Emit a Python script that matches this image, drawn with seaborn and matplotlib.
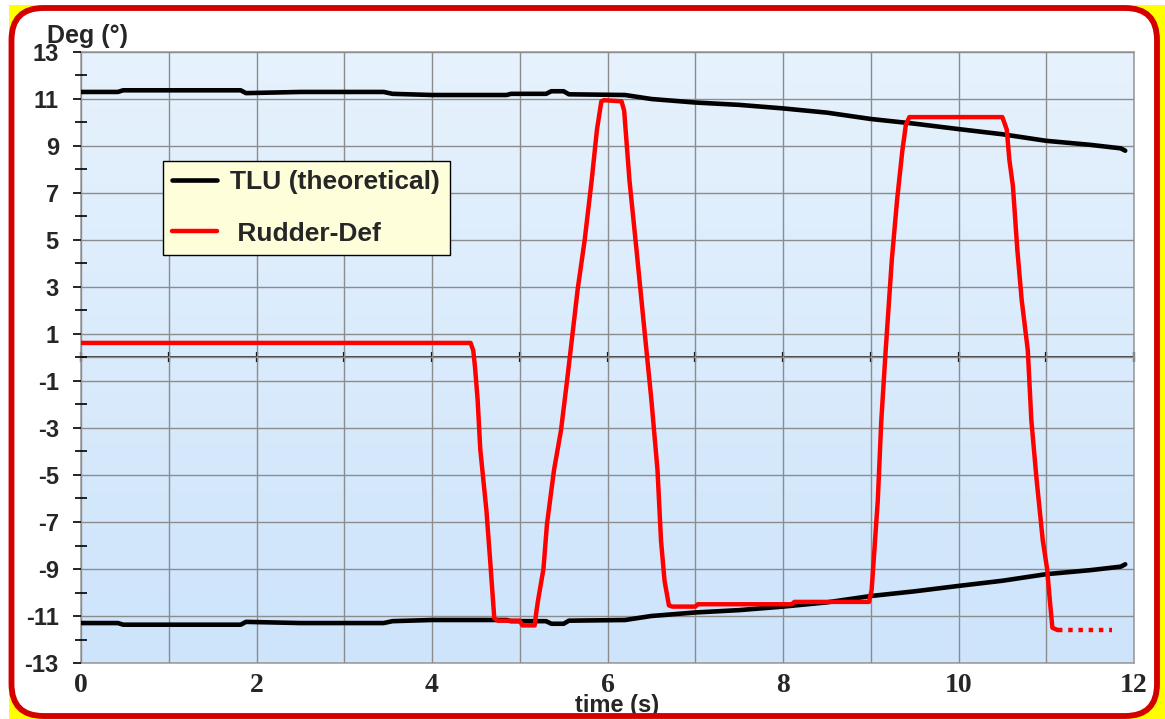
import numpy as np
import pandas as pd
import matplotlib
matplotlib.use('Agg')
import matplotlib.pyplot as plt
import seaborn as sns
from matplotlib.patches import FancyBboxPatch, Rectangle
from matplotlib.colors import LinearSegmentedColormap
from matplotlib.transforms import IdentityTransform

# ── Data ─────────────────────────────────────────────────────────────────────
tlu_up_x = [0, 0.42, 0.48, 1.82, 1.88, 2.5, 3.45, 3.55, 4.0, 4.85, 4.9, 5.3, 5.36,
            5.5, 5.56, 6.2, 6.5, 7.0, 7.5, 8.0, 8.5, 9.0, 9.5, 10.0, 10.5, 11.0,
            11.5, 11.85, 11.9]
tlu_up_y = [11.3, 11.3, 11.37, 11.37, 11.25, 11.3, 11.3, 11.22, 11.17, 11.17,
            11.22, 11.22, 11.33, 11.33, 11.2, 11.17, 11.0, 10.85, 10.75, 10.6,
            10.42, 10.15, 9.95, 9.72, 9.5, 9.22, 9.05, 8.9, 8.8]
tlu_lo_x = tlu_up_x
tlu_lo_y = [-11.3, -11.3, -11.37, -11.37, -11.25, -11.3, -11.3, -11.22, -11.17,
            -11.17, -11.22, -11.22, -11.33, -11.33, -11.2, -11.17, -11.0, -10.85,
            -10.75, -10.6, -10.42, -10.15, -9.95, -9.72, -9.5, -9.22, -9.05,
            -8.9, -8.8]

rudder_x = [0, 4.44, 4.47, 4.49, 4.52, 4.55, 4.62, 4.66, 4.71, 4.75, 5.0, 5.03,
            5.17, 5.19, 5.21, 5.27, 5.31, 5.39, 5.47, 5.54, 5.60, 5.66, 5.74,
            5.82, 5.88, 5.93, 5.96, 6.16, 6.19, 6.25, 6.33, 6.42, 6.50, 6.57,
            6.61, 6.65, 6.70, 6.74, 7.0, 7.03, 8.1, 8.13, 8.98, 9.01, 9.08, 9.12,
            9.17, 9.24, 9.30, 9.36, 9.40, 9.44, 10.50, 10.55, 10.58, 10.62,
            10.67, 10.72, 10.79, 10.83, 10.89, 10.96, 11.01, 11.04, 11.07, 11.13]
rudder_y = [0.62, 0.62, 0.3, -0.4, -1.8, -3.9, -6.5, -8.5, -11.1, -11.2, -11.2,
            -11.4, -11.4, -10.8, -10.3, -9.0, -7.1, -4.8, -3.1, -0.96, 0.96, 2.9,
            5.0, 7.55, 9.7, 10.9, 10.95, 10.9, 10.5, 7.55, 4.6, 1.2, -1.8, -4.8,
            -7.8, -9.5, -10.55, -10.6, -10.6, -10.5, -10.5, -10.4, -10.4, -9.9,
            -6.1, -2.7, 0.3, 4.15, 6.7, 8.8, 9.9, 10.23, 10.23, 9.7, 8.4, 7.3,
            4.6, 2.45, 0.3, -2.66, -5.2, -7.77, -9.0, -10.3, -11.5, -11.6]
rudder_tail_x = [11.13, 11.75]
rudder_tail_y = [-11.6, -11.6]

y_major = list(range(-13, 14, 2))
y_minor = list(range(-12, 13, 2))
x_major = list(range(0, 13, 2))
x_minor = list(range(1, 12, 2))
zero_ticks = list(range(0, 13))

SANS = ['Liberation Sans', 'DejaVu Sans']
SERIF = ['Liberation Serif', 'DejaVu Serif']
GRID = '#8c8c8c'
BORDER = '#d40000'

sns.set_theme(style='white')
plt.rcParams['font.family'] = SANS

fig = plt.figure(figsize=(11.65, 7.19), dpi=100, facecolor='white')

# ── Frame: yellow corners + red rounded border ───────────────────────────────
fig.add_artist(Rectangle((9, 0), 1156, 714, transform=IdentityTransform(),
                         facecolor='#ffff00', edgecolor='none', zorder=-3))
fig.add_artist(FancyBboxPatch((11.5, 3), 1145.5, 708,
                              boxstyle='round,pad=0,rounding_size=32',
                              transform=IdentityTransform(),
                              facecolor='white', edgecolor='none', zorder=-2))
fig.add_artist(FancyBboxPatch((11.5, 3), 1145.5, 708,
                              boxstyle='round,pad=0,rounding_size=32',
                              transform=IdentityTransform(),
                              facecolor='none', edgecolor=BORDER,
                              linewidth=4.2, zorder=20))

ax = fig.add_axes([81 / 1165, 1 - 663 / 719, (1134 - 81) / 1165, (663 - 52) / 719])
ax.set_xlim(0, 12)
ax.set_ylim(-13, 13)

# background gradient
grad = LinearSegmentedColormap.from_list('bg', ['#cde4fb', '#e6f2fd'])
ax.imshow(np.linspace(0, 1, 100).reshape(-1, 1), cmap=grad, origin='lower',
          extent=[0, 12, -13, 13], aspect='auto', zorder=0)

# ── Lines ────────────────────────────────────────────────────────────────────
up = pd.DataFrame({'t': tlu_up_x, 'deg': tlu_up_y})
lo = pd.DataFrame({'t': tlu_lo_x, 'deg': tlu_lo_y})
rd = pd.DataFrame({'t': rudder_x, 'deg': rudder_y})
tail = pd.DataFrame({'t': rudder_tail_x, 'deg': rudder_tail_y})

sns.lineplot(data=up, x='t', y='deg', ax=ax, color='black', lw=3.3,
             estimator=None, sort=False, legend=False, zorder=4)
sns.lineplot(data=lo, x='t', y='deg', ax=ax, color='black', lw=3.3,
             estimator=None, sort=False, legend=False, zorder=4)
sns.lineplot(data=rd, x='t', y='deg', ax=ax, color='#ff0000', lw=3.2,
             estimator=None, sort=False, legend=False, zorder=5)
sns.lineplot(data=tail, x='t', y='deg', ax=ax, color='#ff0000', lw=3.2,
             ls=(0, (1, 1.3)), estimator=None, sort=False, legend=False, zorder=5)
tlu_line, red_line = ax.lines[0], ax.lines[2]

# ── Axes styling ─────────────────────────────────────────────────────────────
ax.set_xlabel('')
ax.set_ylabel('')
ax.set_yticks(y_major)
ax.set_yticks(y_minor, minor=True)
ax.set_yticklabels([str(v) for v in y_major], fontsize=17, fontweight='bold',
                   family=SANS)
ax.set_xticks(x_major)
ax.set_xticks(x_minor, minor=True)
ax.set_xticklabels([str(v) for v in x_major], fontsize=20, fontweight='bold',
                   family=SERIF)
ax.tick_params(axis='y', which='major', direction='out', length=6, width=1.2,
               color='black', pad=10, left=True)
ax.tick_params(axis='y', which='minor', direction='inout', length=8, width=1.2,
               color='black', left=True)
ax.tick_params(axis='x', which='both', length=0, pad=7)
ax.grid(axis='y', which='major', color=GRID, lw=1)
ax.grid(axis='x', which='both', color=GRID, lw=1)
ax.axhline(0, color=GRID, lw=1, zorder=2)
ax.set_axisbelow(False)
for g in ax.get_xgridlines() + ax.get_ygridlines():
    g.set_zorder(2)
for s in ax.spines.values():
    s.set_color('#a0a0a0')
    s.set_linewidth(1.2)

# zero axis: small black ticks at each second
zero_ax = ax.secondary_xaxis(0.5)
zero_ax.set_xticks(zero_ticks)
zero_ax.set_xticklabels([])
zero_ax.tick_params(direction='inout', length=7, width=1.6, color='black')
zero_ax.spines['bottom'].set_visible(False)

# ── Legend ───────────────────────────────────────────────────────────────────
leg = ax.legend([tlu_line, red_line], ['TLU (theoretical)', ' Rudder-Def'],
                loc='upper left', bbox_to_anchor=(0.078, 0.822),
                borderaxespad=0, frameon=True, fancybox=False,
                prop={'family': SANS, 'weight': 'bold', 'size': 19},
                handlelength=1.7, handletextpad=0.5, labelspacing=1.05,
                borderpad=0.35)
leg.get_frame().set_facecolor('#fffedb')
leg.get_frame().set_edgecolor('black')
leg.get_frame().set_linewidth(1)
leg.get_frame().set_alpha(1)
leg.set_zorder(10)

# ── Axis titles ──────────────────────────────────────────────────────────────
fig.text(47 / 1165, 1 - 36 / 719, 'Deg (°)', fontsize=18, fontweight='bold',
         family=SANS, va='center', ha='left')
fig.text(617 / 1165, 1 - 712 / 719, 'time (s)', fontsize=17, fontweight='bold',
         family=SANS, va='baseline', ha='center')

fig.savefig('out.png', dpi=100, facecolor=fig.get_facecolor())
